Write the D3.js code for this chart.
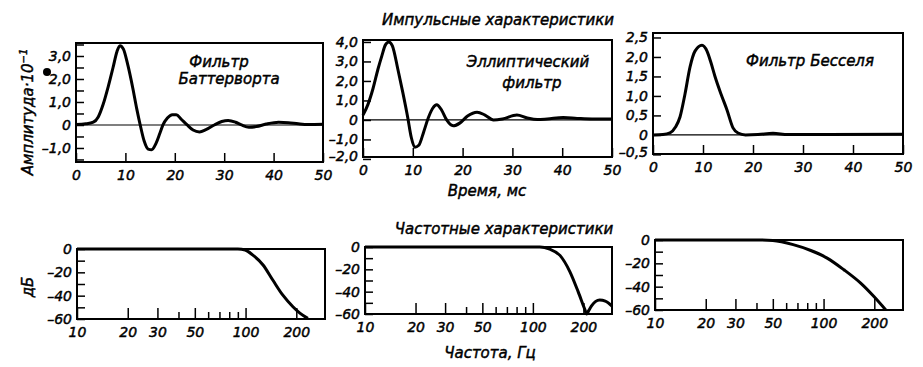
<!DOCTYPE html>
<html><head><meta charset="utf-8">
<script src="https://cdn.jsdelivr.net/npm/d3@7"></script>
<style>
body{margin:0;background:#fff}
text{font-family:"DejaVu Sans",sans-serif;font-style:italic;fill:#000;stroke:#000;stroke-width:0.45px}
</style>
</head><body>
<svg id="c" width="923" height="367"></svg>
<script>
// ---------- data ----------
const timeTicks = [0, 10, 20, 30, 40, 50];
const butterAmpTicks = [3, 2, 1, 0, -1];
const butterAmpMinor = [3.5, 3, 2.5, 2, 1.5, 1, 0.5, 0, -0.5, -1, -1.5];
const ellipAmpTicks = [4, 3, 2, 1, 0, -1, -2];
const besselAmpTicks = [2.5, 2, 1.5, 1, 0.5, 0, -0.5];
const freqMajorTicks = [10, 20, 30, 50, 100, 200];
const freqMinorTicks = [40, 60, 70, 80, 90];
const dbTicks = [0, -10, -20, -30, -40, -50, -60];
const dbLabelTicks = [0, -20, -40, -60];

// impulse responses: [time ms, amplitude ×10^-1]
const butterworthImpulse = [[0,0.02],[2,0.05],[3.5,0.12],[4.5,0.35],[5.5,0.9],[6.5,1.65],[7.5,2.5],[8.3,3.2],[8.9,3.45],[9.6,3.3],[10.5,2.6],[11.5,1.6],[12.3,0.7],[13,0],[13.8,-0.7],[14.6,-1.05],[15.3,-1.08],[16.2,-0.8],[17,-0.35],[17.6,0],[18.5,0.3],[19.5,0.45],[20.3,0.45],[21.3,0.25],[22.5,0],[23.7,-0.22],[25,-0.3],[26.3,-0.2],[28,0],[29.5,0.15],[30.8,0.2],[32.3,0.12],[33.5,0],[35,-0.1],[36.5,-0.07],[38.5,0.04],[41,0.12],[43,0.1],[45,0.05],[47,0.02],[50,0.03]];
const ellipticImpulse = [[0,0.25],[1,0.8],[2,1.6],[3,2.6],[3.8,3.3],[4.5,3.85],[5.2,4.0],[5.9,3.8],[7,2.6],[8,1.4],[9,0.1],[9.7,-0.9],[10.4,-1.4],[11.2,-1.3],[12.2,-0.6],[13.1,0.1],[14,0.6],[14.8,0.78],[15.8,0.5],[16.8,0],[18.1,-0.3],[19.5,-0.15],[21,0.2],[22.9,0.4],[24.5,0.25],[26.2,0],[28,0.05],[30.9,0.25],[33,0.1],[35,0.02],[37,0.05],[40.2,0.12],[43,0.08],[46,0.05],[50,0.05]];
const besselImpulse = [[0,0],[2,0.01],[3.4,0.05],[4.5,0.2],[5.4,0.46],[6.4,1.05],[7.4,1.74],[8.4,2.15],[9.8,2.3],[10.8,2.15],[11.6,1.85],[12.4,1.5],[13.6,1.05],[14.8,0.64],[16,0.18],[17,0.05],[18.5,0],[21,0.01],[24,0.04],[27,0.01],[35,0.01],[50,0.02]];

// frequency responses: [Hz, dB]
const butterworthFreq = [[10,0],[60,0],[90,0],[99.5,-0.9],[110,-5],[127,-13.7],[145,-26.6],[166,-39.4],[191,-49.5],[210,-55],[234,-59.5]];
const ellipticFreq = [[10,0],[100,0],[110,0],[126,-2],[145,-7.5],[166,-22],[186,-40],[204,-56],[209,-60],[215,-57],[223,-53],[250,-47.5],[270,-48.5],[296,-53]];
const besselFreq = [[10,0],[40,0],[50,-0.5],[66,-4],[84,-9],[105,-15.5],[132,-25.5],[166,-37],[199,-48.5],[234,-60]];

// ---------- drawing ----------
const svg = d3.select("#c");
const DASH = "\u2013";
const comma = d => d === 0 ? "0" : (d < 0 ? DASH : "") + d3.format(".1f")(Math.abs(d)).replace(".", ",");
const minusInt = d => d < 0 ? DASH + Math.abs(d) : String(d);

function frame(g, p) {
  g.append("rect").attr("x", p.x0).attr("y", p.y0).attr("width", p.x1 - p.x0).attr("height", p.y1 - p.y0)
    .attr("fill", "none").attr("stroke", "#000").attr("stroke-width", 2);
}

function styleAxis(a) {
  a.select(".domain").remove();
  a.selectAll("line").attr("stroke", "#000").attr("stroke-width", 1.5);
  a.selectAll("text").attr("font-size", 14).attr("font-family", null).attr("fill", "#000");
}

function impulsePanel(p, data, yDomain, yTickVals, yLabelVals, lowShift) {
  const g = svg.append("g");
  const x = d3.scaleLinear().domain([0, 50]).range([p.x0, p.x1]);
  const y = d3.scaleLinear().domain(yDomain).range([p.y1, p.y0]);
  g.append("line").attr("x1", p.x0).attr("x2", p.x1).attr("y1", y(0)).attr("y2", y(0))
    .attr("stroke", "#000").attr("stroke-width", 1.2);
  const xa = g.append("g").attr("transform", `translate(0,${p.y1})`)
    .call(d3.axisBottom(x).tickValues(timeTicks).tickSize(-9).tickPadding(8).tickFormat(d3.format("d")));
  const ya = g.append("g").attr("transform", `translate(${p.x0},0)`)
    .call(d3.axisLeft(y).tickValues(yTickVals).tickSize(-8).tickPadding(5)
      .tickFormat(d => yLabelVals.includes(d) ? comma(d) : ""));
  styleAxis(xa); styleAxis(ya);
  const lowest = d3.min(yLabelVals);
  ya.selectAll(".tick").filter(d => d === lowest).select("text").attr("transform", `translate(0,${-lowShift})`);
  frame(g, p);
  g.append("path").datum(data).attr("fill", "none").attr("stroke", "#000").attr("stroke-width", 3)
    .attr("stroke-linejoin", "round")
    .attr("d", d3.line().x(d => x(d[0])).y(d => y(d[1])).curve(d3.curveMonotoneX));
}

function freqPanel(p, data) {
  const g = svg.append("g");
  const x = d3.scaleLog().domain([10, 296]).range([p.x0, p.x1]);
  const y = d3.scaleLinear().domain([-60, 0]).range([p.y1, p.y0]);
  const xa = g.append("g").attr("transform", `translate(0,${p.y1})`)
    .call(d3.axisBottom(x).tickValues(freqMajorTicks).tickSize(-11).tickPadding(8).tickFormat(d3.format("d")));
  const xm = g.append("g").attr("transform", `translate(0,${p.y1})`)
    .call(d3.axisBottom(x).tickValues(freqMinorTicks).tickSize(-7).tickFormat(""));
  const ya = g.append("g").attr("transform", `translate(${p.x0},0)`)
    .call(d3.axisLeft(y).tickValues(dbTicks).tickSize(-8).tickPadding(5)
      .tickFormat(d => dbLabelTicks.includes(d) ? minusInt(d) : ""));
  styleAxis(xa); styleAxis(xm); styleAxis(ya);
  frame(g, p);
  g.append("path").datum(data.filter(d => d[0] <= 296)).attr("fill", "none").attr("stroke", "#000").attr("stroke-width", 3)
    .attr("stroke-linejoin", "round")
    .attr("d", d3.line().x(d => x(d[0])).y(d => y(d[1])).curve(d3.curveMonotoneX));
}

impulsePanel({x0: 76, x1: 323, y0: 43, y1: 162}, butterworthImpulse, [-1.61, 3.565], butterAmpMinor, butterAmpTicks, 0);
impulsePanel({x0: 363, x1: 612, y0: 40, y1: 157}, ellipticImpulse, [-1.9, 4.1], ellipAmpTicks, ellipAmpTicks, 3);
impulsePanel({x0: 653, x1: 903, y0: 33, y1: 154}, besselImpulse, [-0.49, 2.615], besselAmpTicks, besselAmpTicks, 2.5);

freqPanel({x0: 77, x1: 325, y0: 249, y1: 319}, butterworthFreq);
freqPanel({x0: 365, x1: 612, y0: 247, y1: 314}, ellipticFreq);
freqPanel({x0: 655, x1: 903, y0: 240, y1: 310}, besselFreq);

// ---------- texts ----------
function label(txt, x, y, size, anchor = "middle") {
  return svg.append("text").attr("x", x).attr("y", y).attr("font-size", size).attr("text-anchor", anchor).text(txt);
}
label("Импульсные характеристики", 498, 25, 15);
label("Время, мс", 487, 196, 15);
label("Частотные характеристики", 504, 234, 15);
label("Частота, Гц", 490, 358, 15);

label("Фильтр", 219, 67, 15);
label("Баттерворта", 229, 84, 15);
label("Эллиптический", 528, 67, 15);
label("фильтр", 532, 88, 15);
label("Фильтр Бесселя", 810, 66, 15);

const yl = svg.append("text").attr("transform", "translate(33,112) rotate(-90)")
  .attr("text-anchor", "middle").attr("font-size", 15);
yl.append("tspan").text("Амплитуда·10");
yl.append("tspan").attr("font-size", 10).attr("dy", -6).text("\u22121");

svg.append("text").attr("transform", "translate(33,287) rotate(-90)")
  .attr("text-anchor", "middle").attr("font-size", 15).text("дБ");

svg.append("circle").attr("cx", 47).attr("cy", 72).attr("r", 4).attr("fill", "#000");
</script>
</body></html>
